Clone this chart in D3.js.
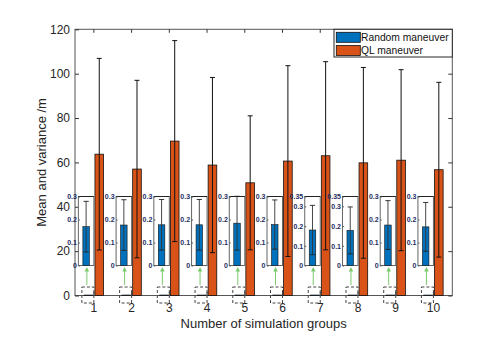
<!DOCTYPE html>
<html>
<head>
<meta charset="utf-8">
<script src="https://d3js.org/d3.v7.min.js"></script>
<style>
body{margin:0;background:#fff;}
svg{font-family:"Liberation Sans",Arial,sans-serif;}
</style>
</head>
<body>
<div id="chart"></div>
<script>
// data
var groups = ["1","2","3","4","5","6","7","8","9","10"];
var seriesNames = ["Random maneuver","QL maneuver"];
var randomMean = [0.169, 0.176, 0.177, 0.177, 0.184, 0.178, 0.180, 0.178, 0.176, 0.168];
var randomErr  = [0.110, 0.110, 0.110, 0.110, 0.117, 0.107, 0.125, 0.119, 0.106, 0.106];
var qlMean = [63.7, 57.0, 69.6, 58.8, 50.8, 60.6, 63.0, 59.8, 61.0, 56.7];
var qlErr  = [43.2, 40.0, 45.3, 39.5, 30.2, 43.0, 42.4, 43.0, 40.8, 39.4];
var yTicks = [0, 20, 40, 60, 80, 100, 120];
var insetMax = [0.3, 0.3, 0.3, 0.3, 0.3, 0.3, 0.35, 0.35, 0.3, 0.3];
var insetTicks = [0, 0.1, 0.2, 0.3];
var colors = ["#0072BD", "#D95319"];

var W = 486, H = 338;
var pLeft = 75, pRight = 452.3, pTop = 29.3, pBottom = 295.5;

var svg = d3.select("#chart").append("svg")
  .attr("width", W).attr("height", H);

var x0 = d3.scaleBand().domain(groups).range([pLeft, pRight])
  .paddingInner(3/7).paddingOuter(3/14);
var x1 = d3.scaleBand().domain(seriesNames).range([0, x0.bandwidth()])
  .paddingInner(0.2).paddingOuter(0.1);
var y = d3.scaleLinear().domain([0, 120]).range([pBottom, pTop]);

var rows = groups.map(function(g, i) {
  return [
    {g: g, i: i, s: seriesNames[0], m: randomMean[i], e: randomErr[i]},
    {g: g, i: i, s: seriesNames[1], m: qlMean[i], e: qlErr[i]}
  ];
});

// box
svg.append("rect")
  .attr("x", pLeft).attr("y", pTop)
  .attr("width", pRight - pLeft).attr("height", pBottom - pTop)
  .attr("fill", "#fff").attr("stroke", "#555").attr("stroke-width", 1);

// axes
function styleAxis(g) {
  g.select(".domain").remove();
  g.selectAll(".tick line").attr("stroke", "#333");
  g.selectAll("text").attr("fill", "#262626").attr("font-size", 12);
}
svg.append("g").attr("transform", "translate(0," + pBottom + ")")
  .call(d3.axisBottom(x0).tickSize(-3.5).tickPadding(7.5))
  .call(styleAxis);
svg.append("g").attr("transform", "translate(0," + pTop + ")")
  .call(d3.axisTop(x0).tickSize(-3.5).tickFormat(""))
  .call(styleAxis);
svg.append("g").attr("transform", "translate(" + pLeft + ",0)")
  .call(d3.axisLeft(y).tickValues(yTicks).tickSize(-4).tickPadding(5))
  .call(styleAxis);
svg.append("g").attr("transform", "translate(" + pRight + ",0)")
  .call(d3.axisRight(y).tickValues(yTicks).tickSize(-4).tickFormat(""))
  .call(styleAxis);

// bars
var grp = svg.append("g").selectAll("g").data(rows).join("g")
  .attr("transform", function(d) { return "translate(" + x0(d[0].g) + ",0)"; });

grp.selectAll("rect").data(function(d) { return d; }).join("rect")
  .attr("x", function(d) { return x1(d.s); })
  .attr("y", function(d) { return y(d.m); })
  .attr("width", x1.bandwidth())
  .attr("height", function(d) { return y(0) - y(d.m); })
  .attr("fill", function(d, k) { return colors[k]; })
  .attr("stroke", "#111").attr("stroke-width", 0.8);

// error bars (QL only visible at this scale)
var eb = grp.selectAll("g.err").data(function(d) { return d.slice(1); }).join("g").attr("class", "err");
eb.append("line")
  .attr("x1", function(d) { return x1(d.s) + x1.bandwidth() / 2; })
  .attr("x2", function(d) { return x1(d.s) + x1.bandwidth() / 2; })
  .attr("y1", function(d) { return y(d.m - d.e); })
  .attr("y2", function(d) { return y(d.m + d.e); })
  .attr("stroke", "#111").attr("stroke-width", 1);
eb.selectAll("line.cap").data(function(d) { return [d.m - d.e, d.m + d.e].map(function(v) { return {v: v, s: d.s}; }); })
  .join("line").attr("class", "cap")
  .attr("x1", function(d) { return x1(d.s) + x1.bandwidth() / 2 - 2.5; })
  .attr("x2", function(d) { return x1(d.s) + x1.bandwidth() / 2 + 2.5; })
  .attr("y1", function(d) { return y(d.v); })
  .attr("y2", function(d) { return y(d.v); })
  .attr("stroke", "#111").attr("stroke-width", 1);

// zoomed insets of the Random maneuver bars
var insTop = 196.5, insBottom = 265.5, insW = 15.5;
rows.forEach(function(r) {
  var d = r[0];
  var cx = x0(d.g) + x0.bandwidth() / 2;
  var bx = cx - insW;
  var yi = d3.scaleLinear().domain([0, insetMax[d.i]]).range([insBottom, insTop]);
  var tv = insetTicks.slice();
  if (insetMax[d.i] > 0.3) tv.push(insetMax[d.i]);

  var ins = svg.append("g");
  ins.append("rect").attr("x", bx).attr("y", insTop)
    .attr("width", insW).attr("height", insBottom - insTop)
    .attr("fill", "#fff").attr("stroke", "#666").attr("stroke-width", 1);
  ins.append("line").attr("x1", bx).attr("x2", bx + insW)
    .attr("y1", insTop).attr("y2", insTop)
    .attr("stroke", "#222").attr("stroke-width", 1);
  var ax = ins.append("g").attr("transform", "translate(" + bx + ",0)")
    .call(d3.axisLeft(yi).tickValues(tv).tickSize(-1.5).tickPadding(1.5).tickFormat(d3.format("~g")));
  ax.select(".domain").remove();
  ax.selectAll(".tick line").attr("stroke", "#555");
  ax.selectAll("text").attr("font-size", 7).attr("font-weight", "bold").attr("fill", "#1f2d62");

  var bcx = bx + insW / 2, bw = 6.5;
  ins.append("rect").attr("x", bcx - bw / 2).attr("y", yi(d.m))
    .attr("width", bw).attr("height", yi(0) - yi(d.m))
    .attr("fill", colors[0]).attr("stroke", "#111").attr("stroke-width", 0.6);
  ins.append("line").attr("x1", bcx).attr("x2", bcx)
    .attr("y1", yi(d.m - d.e)).attr("y2", yi(d.m + d.e))
    .attr("stroke", "#333").attr("stroke-width", 0.9);
  [d.m - d.e, d.m + d.e].forEach(function(v) {
    ins.append("line").attr("x1", bcx - 2.6).attr("x2", bcx + 2.6)
      .attr("y1", yi(v)).attr("y2", yi(v))
      .attr("stroke", "#222").attr("stroke-width", 0.9);
  });

  // dashed box around the tiny bar + arrow up to the inset
  ins.append("rect").attr("x", cx - 12).attr("y", 287)
    .attr("width", 12).attr("height", 16)
    .attr("fill", "none").attr("stroke", "#444").attr("stroke-width", 1)
    .attr("stroke-dasharray", "3,2");
  var axx = cx - 7;
  ins.append("line").attr("x1", axx).attr("x2", axx)
    .attr("y1", 285).attr("y2", 270)
    .attr("stroke", "#7cc96e").attr("stroke-width", 1);
  ins.append("path")
    .attr("d", "M" + (axx - 2.3) + ",271.5L" + (axx + 2.3) + ",271.5L" + axx + ",267Z")
    .attr("fill", "#7cc96e");
});

// axis labels
svg.append("text").attr("x", (pLeft + pRight) / 2).attr("y", 328)
  .attr("text-anchor", "middle").attr("font-size", 13).attr("fill", "#262626")
  .text("Number of simulation groups");
svg.append("text")
  .attr("transform", "translate(46," + ((pTop + pBottom) / 2) + ") rotate(-90)")
  .attr("text-anchor", "middle").attr("font-size", 13).attr("fill", "#262626")
  .text("Mean and variance /m");

// legend
var lg = svg.append("g");
lg.append("rect").attr("x", 334).attr("y", pTop).attr("width", pRight - 334).attr("height", 27.7)
  .attr("fill", "#fff").attr("stroke", "#262626").attr("stroke-width", 1);
seriesNames.forEach(function(s, k) {
  lg.append("rect").attr("x", 336.3).attr("y", 32.3 + k * 13.2)
    .attr("width", 24).attr("height", 10)
    .attr("fill", colors[k]).attr("stroke", "#111").attr("stroke-width", 0.8);
  lg.append("text").attr("x", 361).attr("y", 41.3 + k * 12.3)
    .attr("font-size", 10.3).attr("fill", "#111").text(s);
});
</script>
</body>
</html>
